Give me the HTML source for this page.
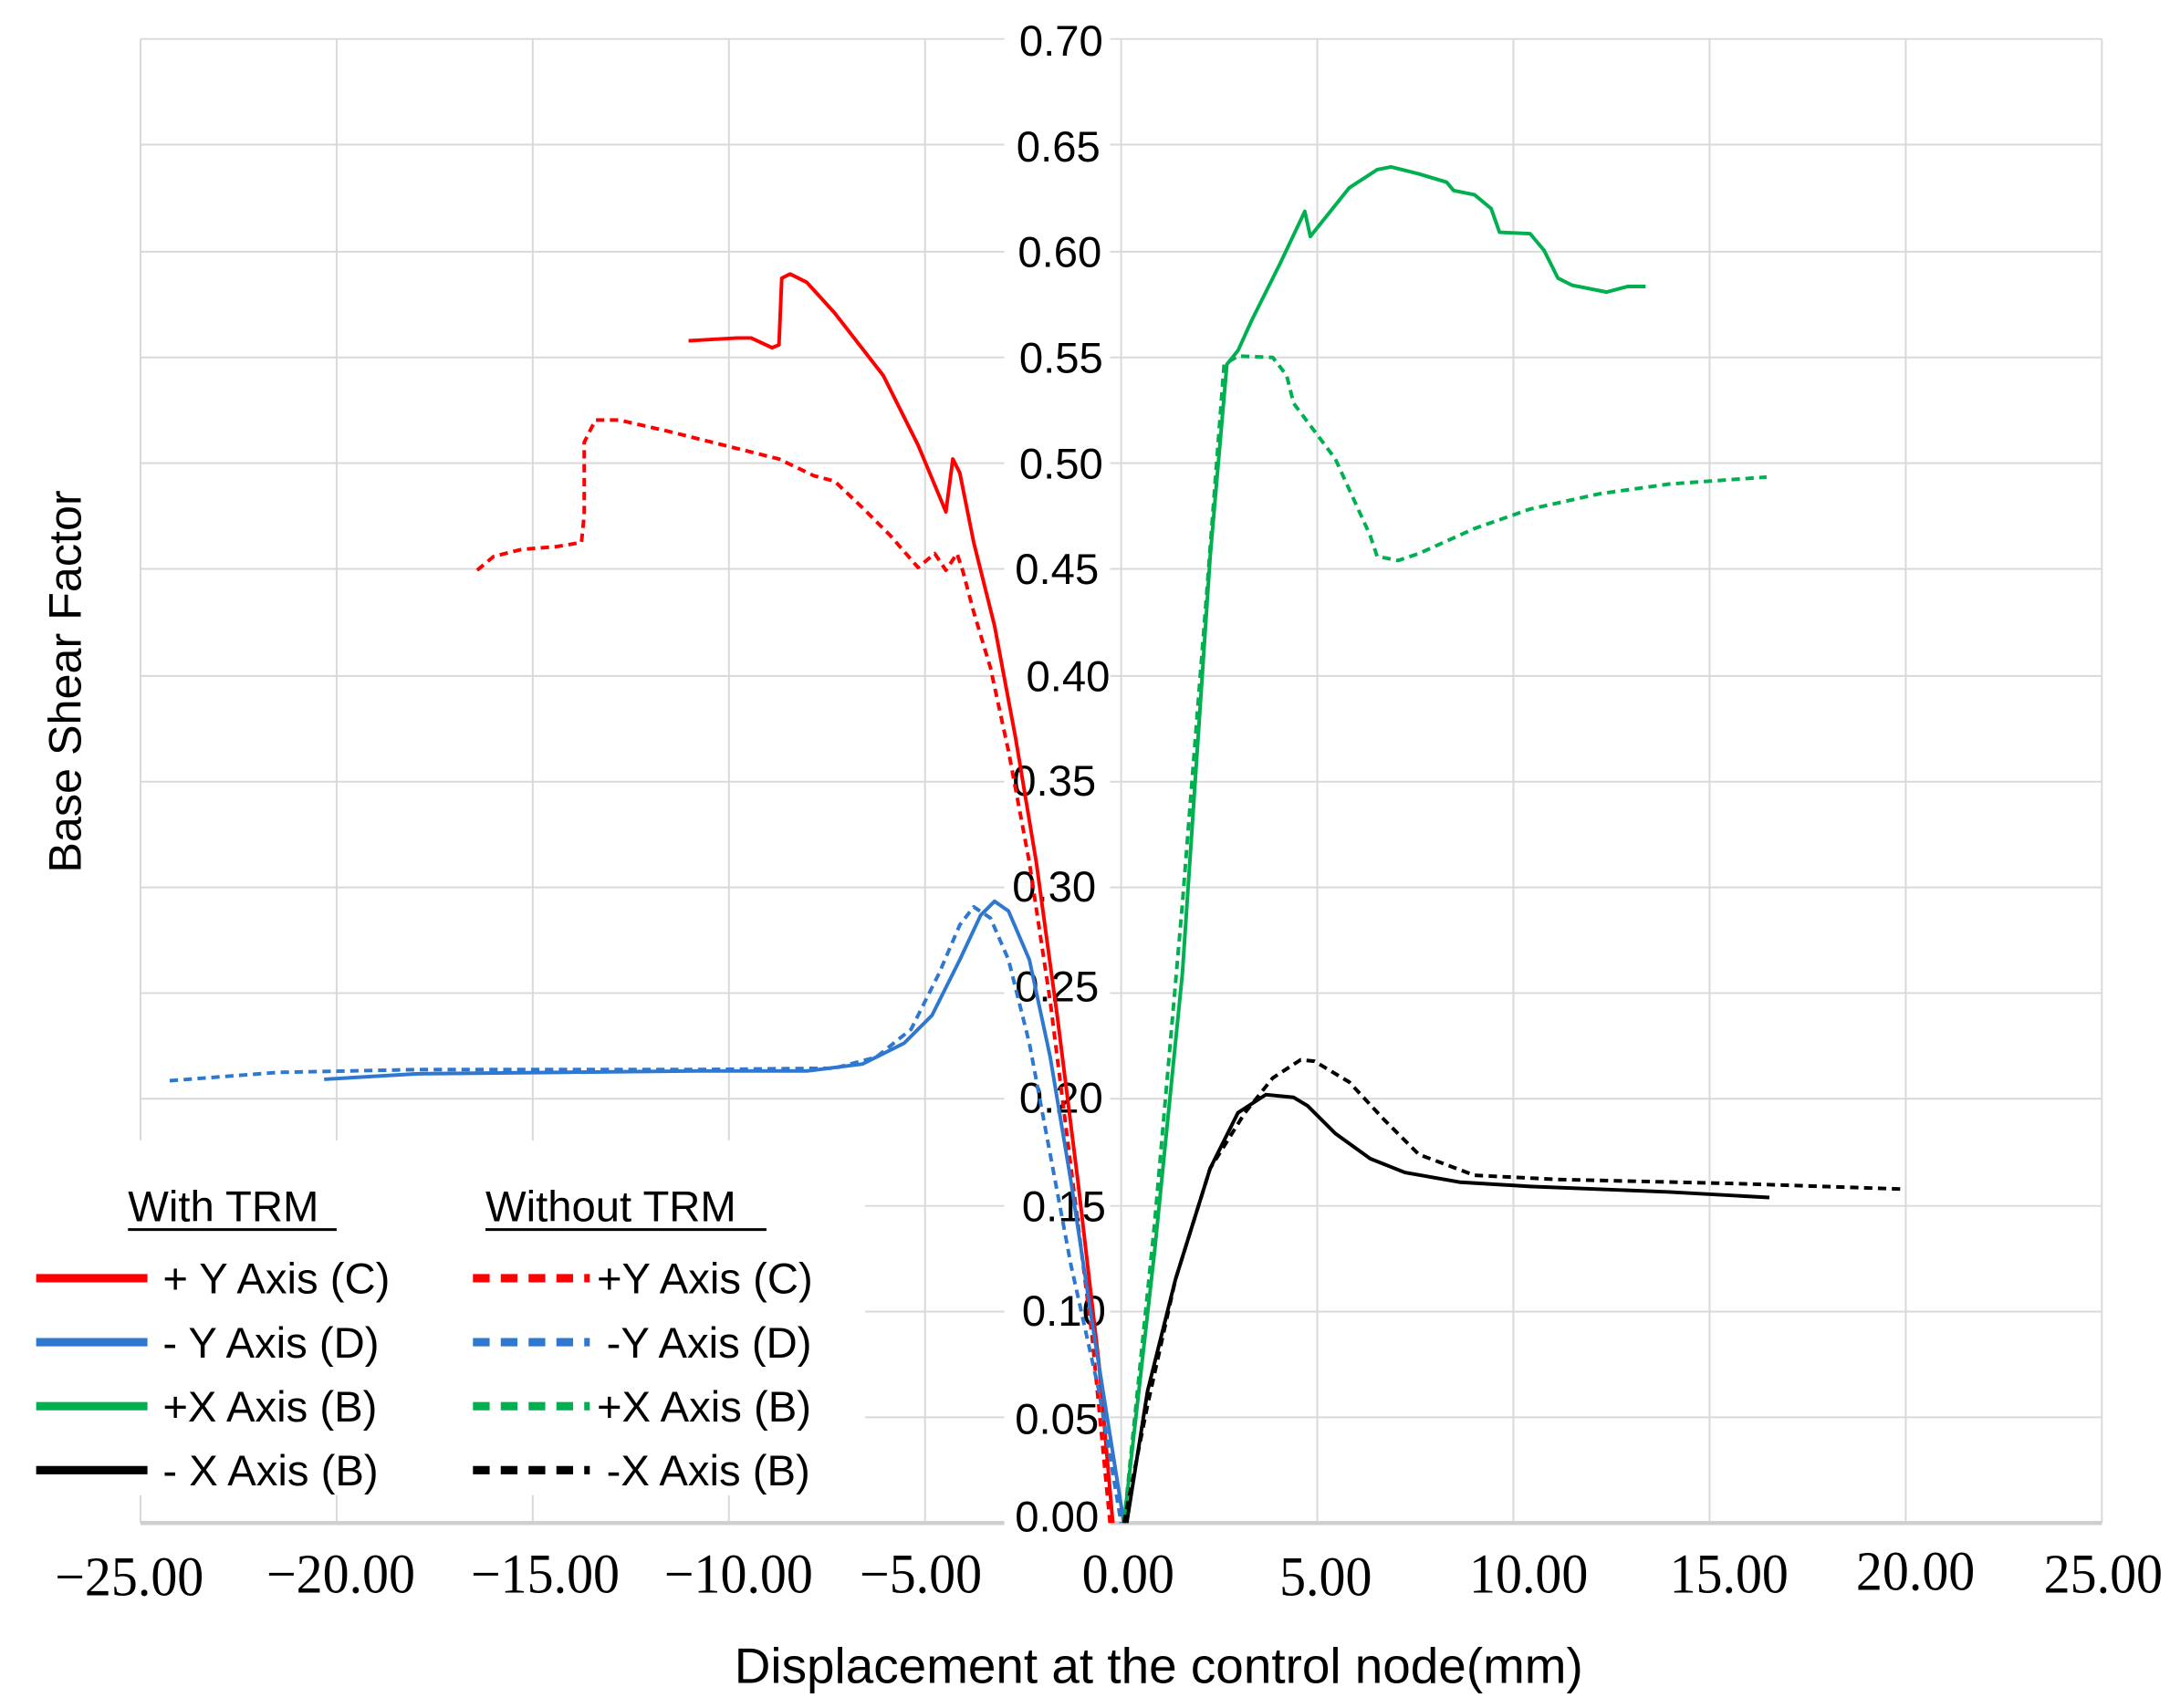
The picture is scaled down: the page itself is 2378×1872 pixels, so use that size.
<!DOCTYPE html>
<html><head><meta charset="utf-8"><style>
html,body{margin:0;padding:0;background:#fff;}
svg{display:block;}
</style></head><body>
<svg width="2378" height="1872" viewBox="0 0 1560 1228" preserveAspectRatio="none" xmlns="http://www.w3.org/2000/svg">
<rect width="1560" height="1228" fill="#fff"/>
<g stroke="#d9d9d9" stroke-width="1.3" fill="none">
<line x1="101" y1="28" x2="1511" y2="28"/>
<line x1="101" y1="104" x2="1511" y2="104"/>
<line x1="101" y1="181" x2="1511" y2="181"/>
<line x1="101" y1="257" x2="1511" y2="257"/>
<line x1="101" y1="333" x2="1511" y2="333"/>
<line x1="101" y1="409" x2="1511" y2="409"/>
<line x1="101" y1="486" x2="1511" y2="486"/>
<line x1="101" y1="562" x2="1511" y2="562"/>
<line x1="101" y1="638" x2="1511" y2="638"/>
<line x1="101" y1="714" x2="1511" y2="714"/>
<line x1="101" y1="790" x2="1511" y2="790"/>
<line x1="622" y1="867" x2="1511" y2="867"/>
<line x1="622" y1="943" x2="1511" y2="943"/>
<line x1="622" y1="1019" x2="1511" y2="1019"/>
<line x1="101" y1="28" x2="101" y2="820"/>
<line x1="242" y1="28" x2="242" y2="820"/>
<line x1="383" y1="28" x2="383" y2="820"/>
<line x1="524" y1="28" x2="524" y2="820"/>
<line x1="665" y1="28" x2="665" y2="1095"/>
<line x1="806" y1="28" x2="806" y2="1095"/>
<line x1="947" y1="28" x2="947" y2="1095"/>
<line x1="1088" y1="28" x2="1088" y2="1095"/>
<line x1="1229" y1="28" x2="1229" y2="1095"/>
<line x1="1370" y1="28" x2="1370" y2="1095"/>
<line x1="1511" y1="28" x2="1511" y2="1095"/>
<line x1="101" y1="1075" x2="101" y2="1095"/>
<line x1="242" y1="1075" x2="242" y2="1095"/>
<line x1="383" y1="1075" x2="383" y2="1095"/>
<line x1="524" y1="1075" x2="524" y2="1095"/>
</g>
<line x1="101" y1="1095" x2="1511" y2="1095" stroke="#cfcfcf" stroke-width="3"/>
<g font-family="Liberation Sans, sans-serif" font-size="31" fill="#000" text-anchor="end">
<g fill="#fff"><rect x="722" y="10" width="76" height="36"/><rect x="722" y="86" width="76" height="36"/><rect x="722" y="163" width="76" height="36"/><rect x="722" y="239" width="76" height="36"/><rect x="722" y="315" width="76" height="36"/><rect x="722" y="391" width="76" height="36"/><rect x="722" y="468" width="76" height="36"/><rect x="722" y="544" width="76" height="36"/><rect x="722" y="620" width="76" height="36"/><rect x="722" y="696" width="76" height="36"/><rect x="722" y="772" width="76" height="36"/><rect x="722" y="849" width="76" height="36"/><rect x="722" y="925" width="76" height="36"/><rect x="722" y="1001" width="76" height="36"/><rect x="722" y="1072" width="76" height="36"/></g>
<text x="793" y="40">0.70</text><text x="791" y="116">0.65</text><text x="792" y="192">0.60</text><text x="793" y="268">0.55</text><text x="793" y="344">0.50</text><text x="790" y="420">0.45</text><text x="798" y="497">0.40</text><text x="788" y="572">0.35</text><text x="788" y="648">0.30</text><text x="790" y="720">0.25</text><text x="793" y="800">0.20</text><text x="795" y="878">0.15</text><text x="795" y="953">0.10</text><text x="790" y="1031">0.05</text><text x="790" y="1101">0.00</text>
</g>
<g fill="none" stroke-width="2.6" stroke-linejoin="round">
<polyline stroke="#ff0000" points="495,245 530,243 540,243 555,250 560,248 562,200 568,197 580,203 600,225 635,270 660,320 680,368 685,330 690,340 700,390 715,450 730,530 745,620 760,730 775,850 790,980 800,1095"/>
<polyline stroke="#ff0000" stroke-dasharray="6,4" points="343,410 355,400 375,395 400,393 418,390 420,370 420,318 428,302 445,302 480,310 520,320 560,330 585,342 600,346 620,365 640,385 660,408 672,398 680,410 688,398 692,410 700,440 712,480 725,540 740,620 755,720 770,840 785,960 798,1095"/>
<polyline stroke="#2f78d0" points="233,776 300,772 400,771 500,770 580,770 620,765 650,750 670,730 690,690 705,658 715,648 725,655 740,690 755,760 770,850 785,950 808,1095"/>
<polyline stroke="#2f78d0" stroke-dasharray="6,4" points="122,777 200,771 300,769 500,769 600,768 630,760 655,740 675,700 690,665 700,652 712,660 725,690 740,750 755,830 770,910 790,1000 806,1095"/>
<polyline stroke="#00b050" points="808,1095 830,900 850,700 870,400 882,262 890,252 900,230 920,190 938,152 942,170 950,160 970,135 990,122 1000,120 1020,125 1040,131 1045,137 1060,140 1072,150 1078,167 1100,168 1110,180 1120,200 1130,205 1155,210 1170,206 1183,206"/>
<polyline stroke="#00b050" stroke-dasharray="6,4" points="808,1095 830,880 850,650 868,420 880,262 890,256 915,257 925,270 930,290 960,330 985,385 990,400 1005,403 1020,398 1060,380 1100,366 1150,355 1200,348 1270,343"/>
<polyline stroke="#000" points="810,1095 825,1000 845,920 870,840 890,800 910,787 930,789 940,795 960,815 985,833 1010,843 1050,850 1100,853 1200,857 1272,861"/>
<polyline stroke="#000" stroke-dasharray="6,4" points="808,1095 825,1010 845,920 870,840 895,800 915,775 935,762 945,763 970,778 995,805 1020,830 1060,845 1120,848 1250,851 1370,855"/>
</g>
<g font-family="Liberation Sans, sans-serif" font-size="31" fill="#000">
<text x="92" y="878">With TRM</text><line x1="92" y1="884" x2="242" y2="884" stroke="#000" stroke-width="2"/>
<text x="349" y="878">Without TRM</text><line x1="349" y1="884" x2="551" y2="884" stroke="#000" stroke-width="2"/>
<g stroke-width="6">
<line x1="26" y1="919" x2="106" y2="919" stroke="#ff0000"/>
<line x1="26" y1="965" x2="106" y2="965" stroke="#2f78d0"/>
<line x1="26" y1="1011" x2="106" y2="1011" stroke="#00b050"/>
<line x1="26" y1="1057" x2="106" y2="1057" stroke="#000"/>
<g stroke-dasharray="12,8">
<line x1="340" y1="919" x2="424" y2="919" stroke="#ff0000"/>
<line x1="340" y1="965" x2="424" y2="965" stroke="#2f78d0"/>
<line x1="340" y1="1011" x2="424" y2="1011" stroke="#00b050"/>
<line x1="340" y1="1057" x2="424" y2="1057" stroke="#000"/>
</g></g>
<text x="117" y="930">+ Y Axis (C)</text>
<text x="117" y="976">-  Y Axis (D)</text>
<text x="117" y="1022">+X Axis  (B)</text>
<text x="117" y="1068">- X Axis  (B)</text>
<text x="429" y="930">+Y Axis (C)</text>
<text x="436" y="976">-Y Axis (D)</text>
<text x="429" y="1022">+X Axis (B)</text>
<text x="436" y="1068">-X Axis (B)</text>
</g>
<g font-family="Liberation Serif, serif" font-size="40" fill="#000" text-anchor="middle" transform="scale(0.95,1)">
<text x="97.9" y="1147">−25.00</text><text x="257.9" y="1145">−20.00</text><text x="412.6" y="1145">−15.00</text><text x="558.9" y="1145">−10.00</text><text x="696.8" y="1145">−5.00</text><text x="853.7" y="1145">0.00</text><text x="1003.2" y="1147">5.00</text><text x="1156.8" y="1145">10.00</text><text x="1308.4" y="1145">15.00</text><text x="1449.5" y="1143">20.00</text><text x="1591.6" y="1145">25.00</text>
</g>
<text x="833" y="1210" font-family="Liberation Sans, sans-serif" font-size="36" text-anchor="middle" fill="#000">Displacement at the control node(mm)</text>
<text transform="translate(58,490) rotate(-90)" font-family="Liberation Sans, sans-serif" font-size="33" text-anchor="middle" fill="#000">Base Shear Factor</text>
</svg>
</body></html>
